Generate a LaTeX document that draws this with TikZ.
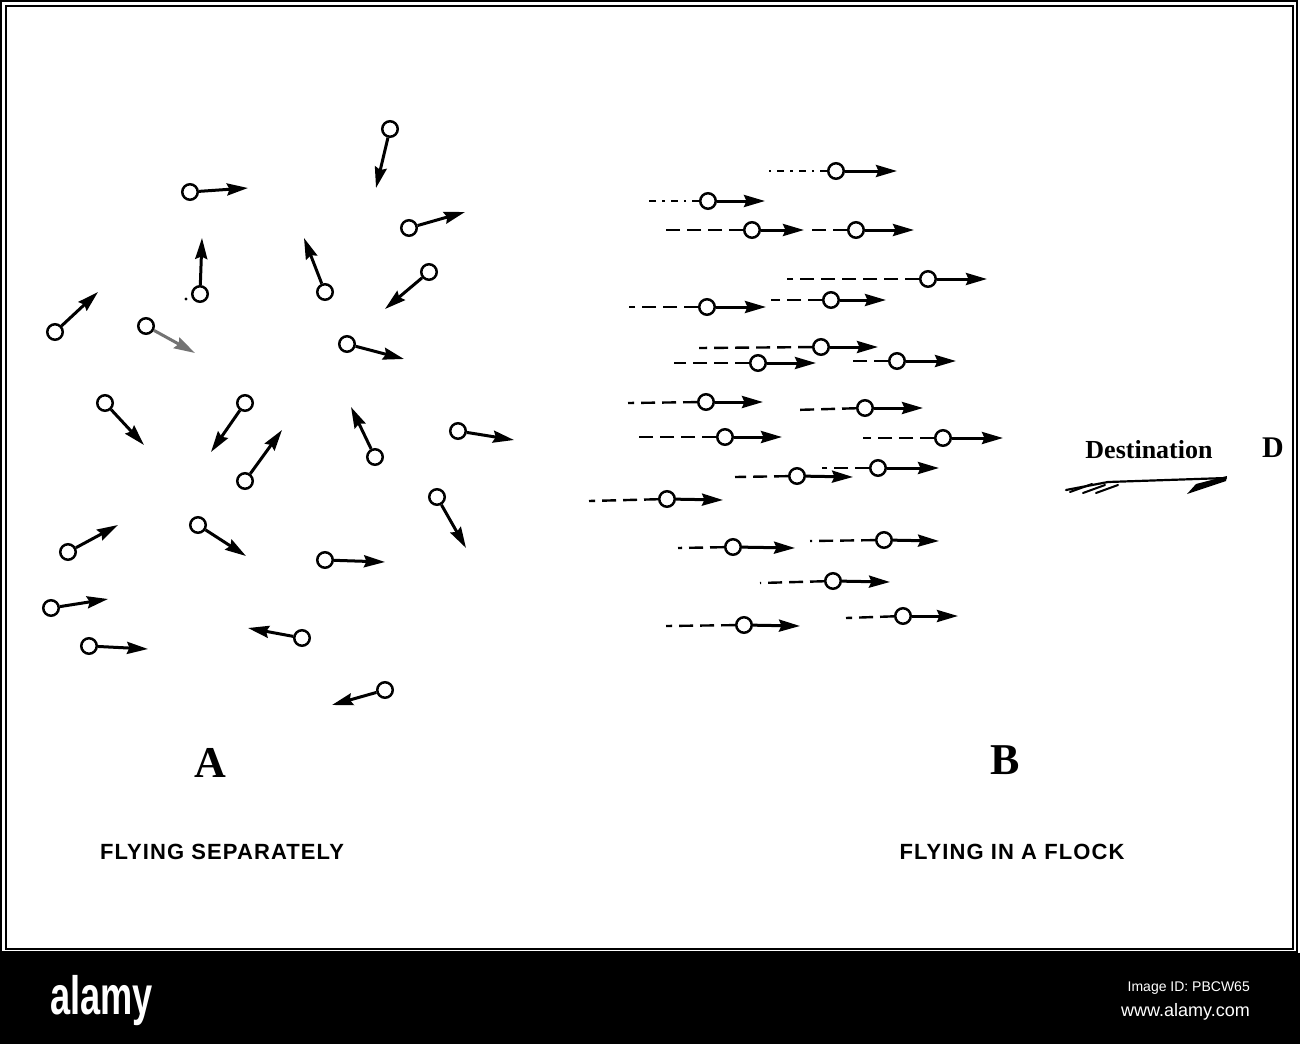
\documentclass[tikz,border=0pt]{standalone}
\usepackage{fontspec}
\setmainfont{Liberation Serif}
\newfontfamily\lsans{Liberation Sans}
\usetikzlibrary{arrows.meta}
\tikzset{
  birdc/.style={circle,draw,line width=2.5pt,fill=white,minimum size=15.5pt,inner sep=0pt},
  flight/.style={line width=3pt,-{Stealth[length=21pt,width=12pt,inset=2.5pt]}},
  trail/.style={line width=2.4pt,dash pattern=on 14pt off 7pt},
  dtrail/.style={line width=2.1pt,dash pattern=on 7pt off 6pt on 2.5pt off 6pt},
  biglab/.style={font=\bfseries\fontsize{44}{44}\selectfont},
  caption/.style={font=\lsans\bfseries\fontsize{22}{22}\selectfont,anchor=base},
  frame/.style={line width=1.8pt},
}
% #1 name, #2 circle centre, #3 arrow tip, #4 extra style
\newcommand\flbird[4]{%
  \node[birdc] (#1) at (#2) {};
  \coordinate (#1t) at (#3);
  \draw[flight,#4] (#1) -- (#1t);
}
% #1 bird name, #2 trail start, #3 style
\newcommand\fltrail[3]{%
  \coordinate (#1s) at (#2);
  \draw[#3] (#1) -- (#1s);
}
\begin{document}
\begin{tikzpicture}[x=1pt,y=-1pt]
\useasboundingbox (0,0) rectangle (1300,1044);
\fill[white] (0,0) rectangle (1300,953);
% frame
\draw[frame] (1,1) rectangle (1297,952);
\draw[frame] (6,6) rectangle (1293,949);
\fill[black] (0,953) rectangle (1300,1044);

% ---------- A : flying separately ----------
\flbird{a1}{390,129}{376,188}{}
\flbird{a2}{190,192}{248,188}{}
\flbird{a3}{200,294}{202,238}{}
\fill (186,299) circle (1.6pt);
\flbird{a4}{325,292}{304,238}{}
\flbird{a5}{409,228}{465,212}{}
\flbird{a6}{429,272}{385,309}{}
\flbird{a7}{55,332}{98,292}{}
\flbird{a8}{146,326}{195,353}{draw=black!55,fill=black!70}
\flbird{a9}{347,344}{404,359}{}
\flbird{b1}{105,403}{144,445}{}
\flbird{b2}{245,403}{211,452}{}
\flbird{b3}{245,481}{282,430}{}
\flbird{b4}{375,457}{351,407}{}
\flbird{b5}{458,431}{514,440}{}
\flbird{b6}{437,497}{466,548}{}
\flbird{b7}{68,552}{118,525}{}
\flbird{b8}{198,525}{246,556}{}
\flbird{b9}{325,560}{385,562}{}
\flbird{b10}{51,608}{108,599}{}
\flbird{b11}{89,646}{148,649}{}
\flbird{b12}{302,638}{248,628}{}
\flbird{b13}{385,690}{332,705}{}

% ---------- B : flying in a flock ----------
\flbird{r1}{836,171}{897,171}{}   \fltrail{r1}{766,171}{dtrail}
\flbird{r2}{708,201}{765,201}{}   \fltrail{r2}{646,201}{dtrail}
\flbird{r3}{752,230}{804,230}{}   \fltrail{r3}{665,230}{trail}
\flbird{r4}{856,230}{914,230}{}   \fltrail{r4}{808,230}{trail}
\flbird{r5}{928,279}{987,279}{}   \fltrail{r5}{787,279}{trail}
\flbird{r6}{707,307}{766,307}{}   \fltrail{r6}{629,307}{trail}
\flbird{r7}{831,300}{886,300}{}   \fltrail{r7}{771,300}{trail}
\flbird{r8}{821,347}{878,347}{}   \fltrail{r8}{699,348}{trail}
\flbird{r9}{758,363}{816,363}{}   \fltrail{r9}{674,363}{trail}
\flbird{r10}{897,361}{956,361}{}  \fltrail{r10}{848,361}{trail}
\flbird{r11}{706,402}{763,402}{}  \fltrail{r11}{628,403}{trail}
\flbird{r12}{865,408}{923,408}{}  \fltrail{r12}{794,410}{trail}
\flbird{r13}{725,437}{782,437}{}  \fltrail{r13}{638,437}{trail}
\flbird{r14}{943,438}{1003,438}{} \fltrail{r14}{863,438}{trail}
\flbird{r15}{878,468}{939,468}{}  \fltrail{r15}{822,468}{trail}
\flbird{r16}{797,476}{853,477}{}  \fltrail{r16}{735,477}{trail}
\flbird{r17}{667,499}{723,500}{}  \fltrail{r17}{589,501}{trail}
\flbird{r18}{733,547}{795,548}{}  \fltrail{r18}{678,548}{trail}
\flbird{r19}{884,540}{939,541}{}  \fltrail{r19}{810,541}{trail}
\flbird{r20}{833,581}{890,582}{}  \fltrail{r20}{760,583}{trail}
\flbird{r21}{744,625}{800,626}{}  \fltrail{r21}{666,626}{trail}
\flbird{r22}{903,616}{958,616}{}  \fltrail{r22}{846,618}{trail}

% ---------- destination ----------
\node[font=\bfseries\fontsize{26}{26}\selectfont,anchor=base,inner sep=0pt] (dest) at (1149,458) {Destination};
\node[font=\bfseries\fontsize{30}{30}\selectfont,anchor=base,inner sep=0pt] (dlab) at (1273,457) {D};
\coordinate (dA) at (1066,490);
\coordinate (dB) at (1108,482);
\coordinate (dC) at (1226,478);
\draw[line width=2.2pt,line cap=round] (dA) -- (dB) -- (dC);
\draw[line width=2pt,line cap=round] (1070,492) -- (1092,484);
\draw[line width=2pt,line cap=round] (1083,493) -- (1105,485);
\draw[line width=2pt,line cap=round] (1096,493) -- (1118,485);
\fill (1187,494) -- (1196,484) -- (1227,476) -- (1226,481) -- cycle;

% ---------- labels ----------
\node[biglab] (labA) at (210,763) {A};
\node[biglab] (labB) at (1005,760) {B};
\node[caption] (capA) at (222,859) {\addfontfeatures{LetterSpace=5}FLYING SEPARATELY};
\node[caption] (capB) at (1012,859) {\addfontfeatures{LetterSpace=5}FLYING IN A FLOCK};

% ---------- bottom bar ----------
\node[text=white,anchor=base west,inner sep=0pt,font=\lsans\bfseries\fontsize{54}{54}\selectfont] (logo) at (50,1014) {\scalebox{0.67}[1]{alamy}};
\node[text=white,anchor=base east,inner sep=0pt,font=\lsans\fontsize{14}{14}\selectfont] (imgid) at (1250,991) {Image ID: PBCW65};
\node[text=white,anchor=base east,inner sep=0pt,font=\lsans\fontsize{18}{18}\selectfont] (www) at (1250,1016) {www.alamy.com};
\end{tikzpicture}
\end{document}
